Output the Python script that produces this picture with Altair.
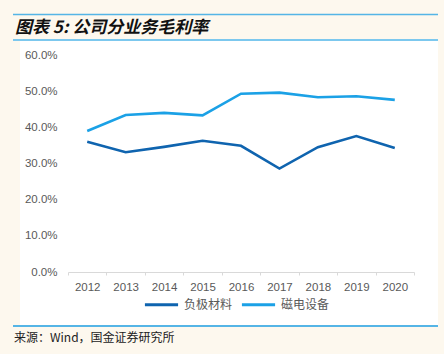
import altair as alt
import pandas as pd

years = ["2012", "2013", "2014", "2015", "2016", "2017", "2018", "2019", "2020"]
anode = [36.0, 33.1, 34.6, 36.3, 34.9, 28.6, 34.5, 37.6, 34.3]
magnet = [39.0, 43.4, 44.0, 43.3, 49.3, 49.6, 48.3, 48.6, 47.6]
series_names = ["负极材料", "磁电设备"]
colors = ["#0F64AF", "#1BA1E6"]
title_text = "图表 5:  公司分业务毛利率"
source_text = "来源：Wind，国金证券研究所"

rows = []
for y, a, m in zip(years, anode, magnet):
    rows.append({"year": y, "series": series_names[0], "value": a / 100})
    rows.append({"year": y, "series": series_names[1], "value": m / 100})
df = pd.DataFrame(rows)

W, H = 346, 217
PL, PT = 68, 55
LINE_BLUE = "#55B5E6"
one = pd.DataFrame({"k": [0]})

panel = alt.Chart(one).mark_rect(color="white").encode(
    x=alt.value(20 - PL), x2=alt.value(438 - PL),
    y=alt.value(41 - PT), y2=alt.value(325 - PT)
)
rule_top = alt.Chart(one).mark_rule(color=LINE_BLUE, strokeWidth=1.5).encode(
    x=alt.value(13 - PL), x2=alt.value(438 - PL), y=alt.value(14.5 - PT)
)
rule_mid = alt.Chart(one).mark_rule(color="#7CC8EE", strokeWidth=2).encode(
    x=alt.value(13 - PL), x2=alt.value(438 - PL), y=alt.value(40 - PT)
)
rule_bot = alt.Chart(one).mark_rule(color=LINE_BLUE, strokeWidth=2).encode(
    x=alt.value(13 - PL), x2=alt.value(438 - PL), y=alt.value(326 - PT)
)
title = alt.Chart(one).mark_text(
    text=title_text, align="left", baseline="middle", fontSize=17,
    font="Noto Sans CJK SC", fontWeight="bold", fontStyle="italic", color="#111111"
).encode(x=alt.value(15 - PL), y=alt.value(28 - PT))
source = alt.Chart(one).mark_text(
    text=source_text, align="left", baseline="middle", fontSize=12,
    font="Noto Sans CJK SC", color="#222222"
).encode(x=alt.value(14 - PL), y=alt.value(338 - PT))

lines = alt.Chart(df).mark_line(strokeWidth=2.6).encode(
    x=alt.X("year:N", bandPosition=0.5,
            scale=alt.Scale(type="band", paddingInner=0, paddingOuter=0),
            axis=alt.Axis(title=None, labelAngle=0, tickBand="extent", zindex=1,
                          domainColor="#D9D9D9", tickColor="#D9D9D9", tickSize=3,
                          labelColor="#595959", labelFontSize=11.5,
                          labelFont="Liberation Sans", labelPadding=6)),
    y=alt.Y("value:Q", scale=alt.Scale(domain=[0, 0.6]),
            axis=alt.Axis(title=None, format=".1%", values=[0, 0.1, 0.2, 0.3, 0.4, 0.5, 0.6],
                          grid=False, domain=False, ticks=False, zindex=1,
                          labelColor="#595959", labelFontSize=11.5,
                          labelFont="Liberation Sans", labelPadding=11)),
    color=alt.Color("series:N", sort=series_names,
                    scale=alt.Scale(domain=series_names, range=colors),
                    legend=alt.Legend(title=None, orient="none", legendX=75, legendY=231,
                                      direction="horizontal", symbolType="stroke",
                                      symbolSize=1100, symbolStrokeWidth=3,
                                      labelFont="Noto Sans CJK SC", labelFontSize=12,
                                      labelColor="#595959", columnPadding=2, labelOffset=4))
)

chart = alt.layer(panel, rule_top, rule_mid, rule_bot, title, source, lines).properties(
    width=W, height=H,
    padding={"left": PL, "top": PT, "right": 444 - PL - W, "bottom": 354 - PT - H},
    autosize=alt.AutoSizeParams(type="none"),
    background="#FDF8EE"
).configure_view(stroke=None)

chart.save("out.html", embed_options={"renderer": "svg", "actions": False})
